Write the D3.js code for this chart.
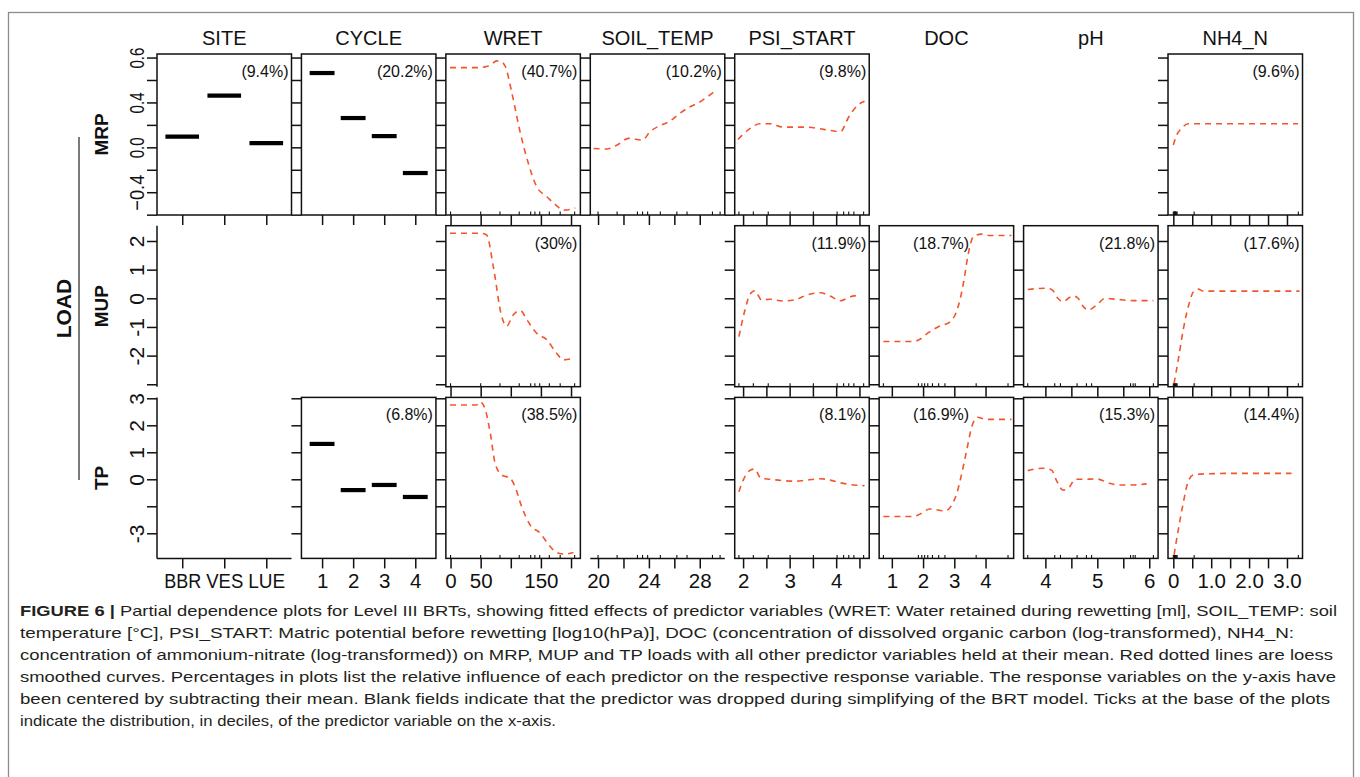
<!DOCTYPE html>
<html><head><meta charset="utf-8">
<script src="https://cdn.jsdelivr.net/npm/d3@7"></script>
<style>
html,body{margin:0;padding:0;background:#fff;}
svg{display:block;font-family:"Liberation Sans",Arial,Helvetica,sans-serif;}
</style></head>
<body>
<svg id="chart" width="1360" height="777"></svg>
<script>
// ---------------- DATA ----------------
const predictors = ["SITE","CYCLE","WRET","SOIL_TEMP","PSI_START","DOC","pH","NH4_N"];
const responses = ["MRP","MUP","TP"];

// relative influence labels (null = predictor dropped)
const pctMRP = ["(9.4%)","(20.2%)","(40.7%)","(10.2%)","(9.8%)",null,null,"(9.6%)"];
const pctMUP = [null,null,"(30%)",null,"(11.9%)","(18.7%)","(21.8%)","(17.6%)"];
const pctTP  = [null,"(6.8%)","(38.5%)",null,"(8.1%)","(16.9%)","(15.3%)","(14.4%)"];

// factor predictors
const siteLevels = ["BBR","VES","LUE"];
const cycleLevels = ["1","2","3","4"];
const siteMRP = [0.095, 0.46, 0.038];
const cycleMRP = [0.662, 0.261, 0.10, -0.229];
const cycleTP = [1.31, -0.40, -0.21, -0.655];

// fitted curves: MRP
const wretMRP_x = [-1, 43, 60, 70, 77, 85, 91, 102, 116, 129, 143, 160, 174, 188, 207];
const wretMRP_y = [0.71, 0.71, 0.72, 0.75, 0.77, 0.76, 0.72, 0.48, 0.125, -0.14, -0.35, -0.44, -0.51, -0.56, -0.54];
const soilMRP_x = [19.65, 20.7, 21.5, 22.4, 23.5, 24.1, 24.8, 25.6, 26.4, 27.2, 27.8, 28.6, 29.2];
const soilMRP_y = [-0.01, -0.015, 0.02, 0.08, 0.065, 0.14, 0.19, 0.23, 0.30, 0.36, 0.39, 0.45, 0.50];
const psiMRP_x = [1.89, 2.11, 2.36, 2.58, 2.86, 3.37, 3.73, 4.09, 4.27, 4.45, 4.61];
const psiMRP_y = [0.07, 0.155, 0.21, 0.21, 0.18, 0.18, 0.16, 0.14, 0.27, 0.37, 0.41];
const nh4MRP_x = [0.0, 0.09, 0.22, 0.39, 0.79, 3.29];
const nh4MRP_y = [0.02, 0.11, 0.17, 0.21, 0.21, 0.21];

// fitted curves: MUP
const wretMUP_x = [-1, 49, 60, 71, 85, 93, 104, 116, 127, 143, 160, 174, 188, 204];
const wretMUP_y = [2.27, 2.27, 2.21, 1.10, -0.64, -0.97, -0.58, -0.43, -0.76, -1.22, -1.45, -1.86, -2.15, -2.09];
const psiMUP_x = [1.91, 2.04, 2.14, 2.25, 2.40, 2.58, 2.86, 3.15, 3.37, 3.66, 3.87, 4.09, 4.30, 4.48];
const psiMUP_y = [-1.34, -0.41, 0.115, 0.265, -0.06, -0.035, -0.095, -0.035, 0.115, 0.195, 0.08, -0.085, 0.055, 0.105];
const docMUP_x = [0.73, 1.69, 1.90, 2.17, 2.49, 2.86, 3.05, 3.18, 3.31, 3.45, 3.61, 3.87, 4.14, 4.83];
const docMUP_y = [-1.51, -1.51, -1.43, -1.20, -0.99, -0.82, -0.52, -0.06, 0.64, 1.57, 2.15, 2.24, 2.19, 2.19];
const phMUP_x = [3.66, 3.99, 4.12, 4.24, 4.34, 4.47, 4.55, 4.63, 4.73, 4.82, 4.99, 5.15, 5.37, 5.69, 6.08];
const phMUP_y = [0.31, 0.35, 0.31, 0.0, -0.12, 0.035, 0.08, 0.0, -0.29, -0.41, -0.23, 0.0, -0.035, -0.08, -0.08];
const nh4MUP_x = [0.02, 0.13, 0.26, 0.42, 0.53, 0.66, 0.79, 3.33];
const nh4MUP_y = [-2.97, -2.15, -1.11, -0.17, 0.23, 0.32, 0.25, 0.25];

// fitted curves: TP
const wretTP_x = [-1, 43, 49, 57, 66, 74, 85, 99, 107, 118, 132, 149, 163, 174, 188, 204];
const wretTP_y = [2.75, 2.75, 2.87, 2.63, 1.70, 0.59, 0.16, 0.04, -0.27, -1.01, -1.69, -2.0, -2.43, -2.68, -2.77, -2.71];
const psiTP_x = [1.91, 2.01, 2.14, 2.25, 2.38, 2.58, 2.86, 3.15, 3.37, 3.66, 3.87, 4.09, 4.38, 4.61];
const psiTP_y = [-0.46, 0.0, 0.32, 0.38, 0.04, 0.0, -0.05, -0.07, -0.03, 0.02, -0.03, -0.13, -0.21, -0.24];
const docTP_x = [0.73, 1.69, 1.90, 2.22, 2.70, 2.92, 3.08, 3.24, 3.40, 3.56, 3.75, 3.87, 4.04, 4.83];
const docTP_y = [-1.38, -1.38, -1.29, -1.10, -1.17, -0.95, -0.52, 0.22, 1.09, 1.95, 2.30, 2.26, 2.22, 2.22];
const phTP_x = [3.66, 3.95, 4.12, 4.21, 4.34, 4.47, 4.57, 4.73, 4.99, 5.24, 5.40, 5.69, 5.95];
const phTP_y = [0.32, 0.41, 0.34, -0.03, -0.40, -0.27, 0.0, 0.0, 0.01, -0.15, -0.21, -0.21, -0.17];
const nh4TP_x = [0.02, 0.13, 0.26, 0.39, 0.53, 0.79, 1.67, 3.12];
const nh4TP_y = [-2.80, -1.88, -0.89, -0.09, 0.16, 0.20, 0.22, 0.22];

// deciles of predictors (rug)
const wretRug = [0, 50, 82, 114, 133, 140, 148, 164, 182, 206];
const soilRug = [20.0, 21.5, 23.1, 23.5, 23.9, 24.9, 26.2, 27.0, 29.0, 29.6];
const psiRug = [1.91, 2.22, 2.54, 3.01, 3.51, 4.02, 4.16, 4.27, 4.38, 4.59];
const docRug = [0.73, 1.85, 1.96, 2.05, 2.15, 2.3, 2.5, 2.7, 3.7, 4.72];
const phRug = [3.66, 4.18, 4.29, 4.61, 4.79, 4.89, 5.64, 5.69, 5.73, 6.08];
const nh4Rug = [0, 0.02, 0.03, 0.04, 0.05, 0.06, 0.08, 0.1, 0.55, 3.3];

// axis ticks and labels
const yTicksMRP = [-0.6, -0.4, -0.2, 0, 0.2, 0.4, 0.6, 0.8];
const yLabelsMRP = ["", "\u22120.4", "", "0.0", "", "0.4", "", "0.6"];
const yTicksMUP = [-3, -2, -1, 0, 1, 2];
const yLabelsMUP = ["", "-2", "-1", "0", "1", "2"];
const yTicksTP = [-2, -1, 0, 1, 2, 3];
const yLabelsTP = ["-3", "", "0", "1", "2", "3"];

const xTicksSITE = [1, 2, 3];            const xLabelsSITE = siteLevels;
const xTicksCYCLE = [1, 2, 3, 4];        const xLabelsCYCLE = cycleLevels;
const xTicksWRET = [0, 50, 100, 150, 200]; const xLabelsWRET = ["0","50","","150",""];
const xTicksSOIL = [20, 22, 24, 26, 28]; const xLabelsSOIL = ["20","","24","","28"];
const xTicksPSI = [2, 2.5, 3, 3.5, 4, 4.5]; const xLabelsPSI = ["2","","3","","4",""];
const xTicksDOC = [1, 2, 3, 4];          const xLabelsDOC = ["1","2","3","4"];
const xTicksPH = [4, 4.5, 5, 5.5, 6];    const xLabelsPH = ["4","","5","","6"];
const xTicksNH4 = [0, 0.5, 1, 1.5, 2, 2.5, 3]; const xLabelsNH4 = ["0","","1.0","","2.0","","3.0"];

const captionLines = [
 ["FIGURE 6 | ", "Partial dependence plots for Level III BRTs, showing fitted effects of predictor variables (WRET: Water retained during rewetting [ml], SOIL_TEMP: soil"],
 ["", "temperature [\u00B0C], PSI_START: Matric potential before rewetting [log10(hPa)], DOC (concentration of dissolved organic carbon (log-transformed), NH4_N:"],
 ["", "concentration of ammonium-nitrate (log-transformed)) on MRP, MUP and TP loads with all other predictor variables held at their mean. Red dotted lines are loess"],
 ["", "smoothed curves. Percentages in plots list the relative influence of each predictor on the respective response variable. The response variables on the y-axis have"],
 ["", "been centered by subtracting their mean. Blank fields indicate that the predictor was dropped during simplifying of the BRT model. Ticks at the base of the plots"],
 ["", "indicate the distribution, in deciles, of the predictor variable on the x-axis."]
];

// ---------------- LAYOUT / STYLE ----------------
const colX0 = 157, colStep = 144.43, panelW = 134.5;
const rowY0 = 54, rowStep = 171.7, panelH = 161;
const curveColor = "#f2552c";
const font = "'Liberation Sans', Arial, Helvetica, sans-serif";

const xDomains = [[0.4,3.6],[0.335,4.665],[-7.8,215.5],[19.39,29.97],[1.82,4.71],[0.594,4.90],[3.58,6.17],[-0.14,3.41]];
const yDomains = [[-0.603,0.8316],[-3.085,2.534],[-2.93,3.033]];

const xTickSets = [xTicksSITE,xTicksCYCLE,xTicksWRET,xTicksSOIL,xTicksPSI,xTicksDOC,xTicksPH,xTicksNH4];
const xLabelSets = [xLabelsSITE,xLabelsCYCLE,xLabelsWRET,xLabelsSOIL,xLabelsPSI,xLabelsDOC,xLabelsPH,xLabelsNH4];
const yTickSets = [yTicksMRP,yTicksMUP,yTicksTP];
const yLabelSets = [yLabelsMRP,yLabelsMUP,yLabelsTP];
const pctSets = [pctMRP,pctMUP,pctTP];
const rugSets = [null,null,wretRug,soilRug,psiRug,docRug,phRug,nh4Rug];

const curves = {
  "0-2":[wretMRP_x,wretMRP_y], "0-3":[soilMRP_x,soilMRP_y], "0-4":[psiMRP_x,psiMRP_y], "0-7":[nh4MRP_x,nh4MRP_y],
  "1-2":[wretMUP_x,wretMUP_y], "1-4":[psiMUP_x,psiMUP_y], "1-5":[docMUP_x,docMUP_y], "1-6":[phMUP_x,phMUP_y], "1-7":[nh4MUP_x,nh4MUP_y],
  "2-2":[wretTP_x,wretTP_y], "2-4":[psiTP_x,psiTP_y], "2-5":[docTP_x,docTP_y], "2-6":[phTP_x,phTP_y], "2-7":[nh4TP_x,nh4TP_y]
};
const factors = { "0-0": siteMRP, "0-1": cycleMRP, "2-1": cycleTP };

const svg = d3.select("#chart");

// outer frame
svg.append("rect").attr("x",8.5).attr("y",12.5).attr("width",1345).attr("height",820)
  .attr("fill","none").attr("stroke","#8c8c8c").attr("stroke-width",1.3);

// column titles
predictors.forEach((p,c)=>{
  svg.append("text").attr("x", colX0 + c*colStep + panelW/2).attr("y",45)
    .attr("text-anchor","middle").attr("font-size",20).attr("fill","#111").text(p);
});

// response labels
responses.forEach((r,i)=>{
  const cy = rowY0 + i*rowStep + panelH/2;
  svg.append("text").attr("transform",`translate(108,${cy}) rotate(-90)`)
    .attr("text-anchor","middle").attr("font-size",19).attr("font-weight","bold").attr("fill","#111").text(r);
});
svg.append("line").attr("x1",79).attr("x2",79).attr("y1",137).attr("y2",480).attr("stroke","#222").attr("stroke-width",1.2);
svg.append("text").attr("transform",`translate(71,308.5) rotate(-90)`)
  .attr("text-anchor","middle").attr("font-size",21).attr("font-weight","bold").attr("fill","#111").text("LOAD");

const lw = 1.5;

for (let r=0;r<3;r++){
  for (let c=0;c<8;c++){
    const left = colX0 + c*colStep, top = rowY0 + r*rowStep;
    const x = d3.scaleLinear().domain(xDomains[c]).range([left,left+panelW]);
    const y = d3.scaleLinear().domain(yDomains[r]).range([top+panelH,top]);
    const present = pctSets[r][c] !== null;
    const showY = present || c===0;
    const showX = present || r===2;
    const g = svg.append("g");

    if (showY){
      const ya = d3.axisLeft(y).tickValues(yTickSets[r]).tickSize(10)
        .tickFormat((d,i)=> c===0 ? yLabelSets[r][i] : "");
      const ag = g.append("g").attr("transform",`translate(${left},0)`).call(ya);
      ag.select(".domain").remove();
      ag.selectAll(".tick line").attr("stroke","#111").attr("stroke-width",lw);
      ag.selectAll(".tick text").attr("x",null).attr("dy",null)
        .attr("transform","translate(-13.5,0) rotate(-90)").attr("text-anchor","middle")
        .attr("font-size",21).attr("font-family",font).attr("fill","#111");
      if (c===0 && r===0){
        ag.selectAll(".tick text").filter(function(){return this.textContent.length>0;})
          .attr("textLength",function(){return this.textContent.length>3?36:21;})
          .attr("lengthAdjust","spacingAndGlyphs");
      }
      if (!present){
        g.append("line").attr("x1",left).attr("x2",left).attr("y1",top).attr("y2",top+panelH)
          .attr("stroke","#111").attr("stroke-width",lw);
      }
    }
    if (showX){
      const xa = d3.axisBottom(x).tickValues(xTickSets[c]).tickSize(10)
        .tickFormat((d,i)=> r===2 ? xLabelSets[c][i] : "");
      const ag = g.append("g").attr("transform",`translate(0,${top+panelH})`).call(xa);
      ag.select(".domain").remove();
      ag.selectAll(".tick line").attr("stroke","#111").attr("stroke-width",lw);
      ag.selectAll(".tick text").attr("y",30).attr("dy",null)
        .attr("font-size",20.5).attr("font-family",font).attr("fill","#111");
      if (c===0){
        ag.selectAll(".tick text").attr("textLength",37).attr("lengthAdjust","spacingAndGlyphs");
      }
      if (!present){
        g.append("line").attr("x1",left).attr("x2",left+panelW).attr("y1",top+panelH).attr("y2",top+panelH)
          .attr("stroke","#111").attr("stroke-width",lw);
      }
      // rug of deciles
      if (rugSets[c]){
        g.selectAll(null).data(rugSets[c]).enter().append("line")
          .attr("x1",d=>x(d)).attr("x2",d=>x(d))
          .attr("y1",top+panelH).attr("y2",top+panelH-3.5)
          .attr("stroke","#111").attr("stroke-width",1.1);
      }
    }
    if (!present) continue;

    // panel box
    g.append("rect").attr("x",left).attr("y",top).attr("width",panelW).attr("height",panelH)
      .attr("fill","none").attr("stroke","#111").attr("stroke-width",lw);

    const key = r+"-"+c;
    if (factors[key]){
      g.selectAll(null).data(factors[key]).enter().append("line")
        .attr("x1",(d,i)=>x(i+1-0.4)).attr("x2",(d,i)=>x(i+1+0.4))
        .attr("y1",d=>y(d)).attr("y2",d=>y(d))
        .attr("stroke","#000").attr("stroke-width",4.2);
    }
    if (curves[key]){
      const [xs,ys] = curves[key];
      const pts = xs.map((v,i)=>[v,ys[i]]);
      const line = d3.line().x(d=>x(d[0])).y(d=>y(d[1])).curve(d3.curveMonotoneX);
      g.append("path").attr("d",line(pts)).attr("fill","none")
        .attr("stroke",curveColor).attr("stroke-width",1.6).attr("stroke-dasharray","6,5");
    }
    // relative influence
    const isDOC = c===5;
    g.append("text")
      .attr("x", isDOC ? left+90 : left+panelW-3)
      .attr("y", top+23)
      .attr("text-anchor","end").attr("font-size",16).attr("fill","#111")
      .text(pctSets[r][c]);
  }
}

// caption
const capW = [1317, 1274, 1313, 1316, 1310, 536];
captionLines.forEach((ln,i)=>{
  const t = svg.append("text").attr("x",20).attr("y",616 + i*22)
    .attr("font-size",14.5).attr("fill","#231f20")
    .attr("font-family","'Liberation Sans Narrow','Liberation Sans',Arial,sans-serif")
    .attr("textLength",capW[i]).attr("lengthAdjust","spacingAndGlyphs");
  if (ln[0]) t.append("tspan").attr("font-weight","bold").text(ln[0]);
  t.append("tspan").text(ln[1]);
});
</script>
</body></html>
